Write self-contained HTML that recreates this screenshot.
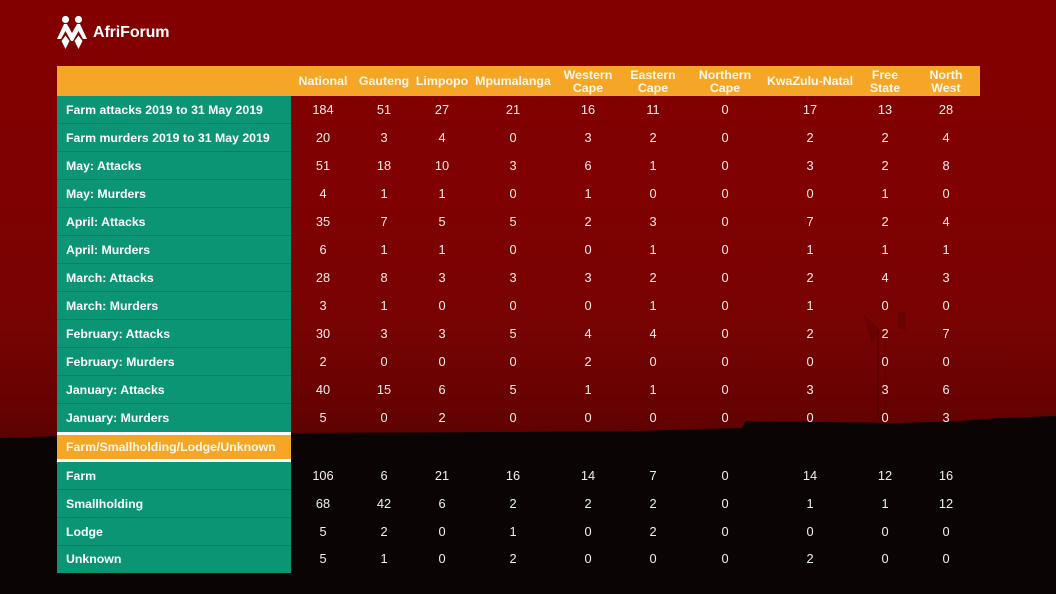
<!DOCTYPE html>
<html><head><meta charset="utf-8">
<style>
*{margin:0;padding:0;box-sizing:border-box}
html,body{width:1056px;height:594px;overflow:hidden}
body{position:relative;font-family:"Liberation Sans",Arial,sans-serif;background:linear-gradient(to bottom,#830000 0px,#7f0101 200px,#770303 330px,#620202 425px,#5a0202 440px);}
#bg{position:absolute;left:0;top:0}
.logo-t{position:absolute;left:93px;top:24px;color:#fff;font-weight:bold;font-size:16px;letter-spacing:-0.1px}
.hdr{position:absolute;left:57px;top:66px;width:923px;height:30px;background:#f6a627}
.h{position:absolute;width:100px;text-align:center;color:#fff8ea;font-weight:bold;font-size:12.4px;line-height:12.5px}
.h1{top:75px}
.h2{top:69px}
.green{position:absolute;left:57px;width:234px;background:#0b9574}
.lab{position:absolute;left:57px;width:234px;height:28px;line-height:28px;padding-left:9px;color:#fff;font-weight:bold;font-size:12.3px;border-bottom:1px solid #0a7f62;white-space:nowrap}
.row{position:absolute;left:0;width:1056px;height:28px;line-height:28px;color:#f6eeee;font-size:12.8px}
.row span{position:absolute;width:60px;text-align:center;top:0}
.row span:nth-child(1){left:293px}
.row span:nth-child(2){left:354px}
.row span:nth-child(3){left:412px}
.row span:nth-child(4){left:483px}
.row span:nth-child(5){left:558px}
.row span:nth-child(6){left:623px}
.row span:nth-child(7){left:695px}
.row span:nth-child(8){left:780px}
.row span:nth-child(9){left:855px}
.row span:nth-child(10){left:916px}
.sub{position:absolute;left:57px;top:432px;width:234px;height:30px;background:#fff;}
.sub div{position:absolute;left:0;top:3px;width:234px;height:24px;background:#f6a627;color:#fff8ea;font-weight:bold;font-size:12.3px;line-height:24px;padding-left:9px;white-space:nowrap}
</style></head><body>
<svg id="bg" width="1056" height="594" viewBox="0 0 1056 594">
  <g stroke="#4a0000" stroke-opacity="0.4" fill="none">
    <line x1="878" y1="330" x2="878" y2="420" stroke-width="2"/>
    <line x1="885" y1="330" x2="886" y2="420" stroke-width="1"/>
  </g>
  <path d="M864 315 L872 345 L880 330 Z" fill="#4a0000" fill-opacity="0.3"/>
  <path d="M898 312 L906 312 L906 330 L898 328 Z" fill="#4a0000" fill-opacity="0.3"/>
  <polygon points="0,438 60,436 290,433 500,432 640,431 700,429 742,428 746,421 820,422 900,423 960,421 1000,418 1056,416 1056,594 0,594" fill="#0b0405"/>
  <g fill="#ffffff">
    <circle cx="65.5" cy="19.5" r="3.6"/>
    <circle cx="78.5" cy="19.5" r="3.6"/>
    <path d="M57 39 L64 24 L67 24 L72 33 L77 24 L80 24 L87 39 L83 39 L78.5 31 L73 41 L71 41 L65.5 31 L61 39 Z"/>
    <path d="M61.5 41 L65.5 35.5 L69.5 41 L65.5 49 Z"/>
    <path d="M74.5 41 L78.5 35.5 L82.5 41 L78.5 49 Z"/>
  </g>
</svg>
<div class="logo-t">AfriForum</div>

<div class="hdr"></div>
<div class="h h1" style="left:273px">National</div>
<div class="h h1" style="left:334px">Gauteng</div>
<div class="h h1" style="left:392px">Limpopo</div>
<div class="h h1" style="left:463px">Mpumalanga</div>
<div class="h h2" style="left:538px">Western<br>Cape</div>
<div class="h h2" style="left:603px">Eastern<br>Cape</div>
<div class="h h2" style="left:675px">Northern<br>Cape</div>
<div class="h h1" style="left:760px">KwaZulu-Natal</div>
<div class="h h2" style="left:835px">Free<br>State</div>
<div class="h h2" style="left:896px">North<br>West</div>

<div class="green" style="top:96px;height:336px"></div>
<div class="green" style="top:462px;height:111px"></div>

<div class="lab" style="top:96px">Farm attacks 2019 to 31 May 2019</div>
<div class="lab" style="top:124px">Farm murders 2019 to 31 May 2019</div>
<div class="lab" style="top:152px">May: Attacks</div>
<div class="lab" style="top:180px">May: Murders</div>
<div class="lab" style="top:208px">April: Attacks</div>
<div class="lab" style="top:236px">April: Murders</div>
<div class="lab" style="top:264px">March: Attacks</div>
<div class="lab" style="top:292px">March: Murders</div>
<div class="lab" style="top:320px">February: Attacks</div>
<div class="lab" style="top:348px">February: Murders</div>
<div class="lab" style="top:376px">January: Attacks</div>
<div class="lab" style="top:404px;border-bottom:none">January: Murders</div>
<div class="sub"><div>Farm/Smallholding/Lodge/Unknown</div></div>
<div class="lab" style="top:462px;height:28px">Farm</div>
<div class="lab" style="top:490px;height:28px">Smallholding</div>
<div class="lab" style="top:518px;height:28px">Lodge</div>
<div class="lab" style="top:546px;height:27px;line-height:27px;border-bottom:none">Unknown</div>

<div class="row" style="top:96px"><span>184</span><span>51</span><span>27</span><span>21</span><span>16</span><span>11</span><span>0</span><span>17</span><span>13</span><span>28</span></div>
<div class="row" style="top:124px"><span>20</span><span>3</span><span>4</span><span>0</span><span>3</span><span>2</span><span>0</span><span>2</span><span>2</span><span>4</span></div>
<div class="row" style="top:152px"><span>51</span><span>18</span><span>10</span><span>3</span><span>6</span><span>1</span><span>0</span><span>3</span><span>2</span><span>8</span></div>
<div class="row" style="top:180px"><span>4</span><span>1</span><span>1</span><span>0</span><span>1</span><span>0</span><span>0</span><span>0</span><span>1</span><span>0</span></div>
<div class="row" style="top:208px"><span>35</span><span>7</span><span>5</span><span>5</span><span>2</span><span>3</span><span>0</span><span>7</span><span>2</span><span>4</span></div>
<div class="row" style="top:236px"><span>6</span><span>1</span><span>1</span><span>0</span><span>0</span><span>1</span><span>0</span><span>1</span><span>1</span><span>1</span></div>
<div class="row" style="top:264px"><span>28</span><span>8</span><span>3</span><span>3</span><span>3</span><span>2</span><span>0</span><span>2</span><span>4</span><span>3</span></div>
<div class="row" style="top:292px"><span>3</span><span>1</span><span>0</span><span>0</span><span>0</span><span>1</span><span>0</span><span>1</span><span>0</span><span>0</span></div>
<div class="row" style="top:320px"><span>30</span><span>3</span><span>3</span><span>5</span><span>4</span><span>4</span><span>0</span><span>2</span><span>2</span><span>7</span></div>
<div class="row" style="top:348px"><span>2</span><span>0</span><span>0</span><span>0</span><span>2</span><span>0</span><span>0</span><span>0</span><span>0</span><span>0</span></div>
<div class="row" style="top:376px"><span>40</span><span>15</span><span>6</span><span>5</span><span>1</span><span>1</span><span>0</span><span>3</span><span>3</span><span>6</span></div>
<div class="row" style="top:404px"><span>5</span><span>0</span><span>2</span><span>0</span><span>0</span><span>0</span><span>0</span><span>0</span><span>0</span><span>3</span></div>
<div class="row" style="top:462px"><span>106</span><span>6</span><span>21</span><span>16</span><span>14</span><span>7</span><span>0</span><span>14</span><span>12</span><span>16</span></div>
<div class="row" style="top:490px"><span>68</span><span>42</span><span>6</span><span>2</span><span>2</span><span>2</span><span>0</span><span>1</span><span>1</span><span>12</span></div>
<div class="row" style="top:518px"><span>5</span><span>2</span><span>0</span><span>1</span><span>0</span><span>2</span><span>0</span><span>0</span><span>0</span><span>0</span></div>
<div class="row" style="top:545px"><span>5</span><span>1</span><span>0</span><span>2</span><span>0</span><span>0</span><span>0</span><span>2</span><span>0</span><span>0</span></div>
</body></html>
